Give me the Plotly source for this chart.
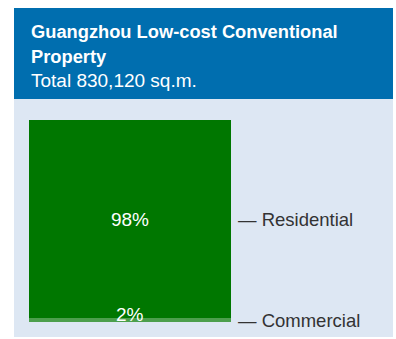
import plotly.graph_objects as go

# Floor-area split of the Guangzhou low-cost conventional portfolio
categories = ["Commercial", "Residential"]
shares = [2, 98]
bar_colors = ["#4C9F4C", "#007700"]
title_lines = ["Guangzhou Low-cost Conventional", "Property"]
subtitle = "Total 830,120 sq.m."

W, H = 396, 339
# plot area in pixels (left, right, top, bottom)
PL, PR, PT, PB = 29, 231, 120, 322
PW, PH = PR - PL, PB - PT


def px_x(x):
    return (x - PL) / PW


def px_y(y):
    return (PB - y) / PH


FONT = "Liberation Sans, Arial, sans-serif"

fig = go.Figure()
for cat, val, col in zip(categories, shares, bar_colors):
    fig.add_trace(go.Bar(
        x=["total"], y=[val], name=cat,
        marker=dict(color=col, line=dict(width=0)),
        width=1,
        texttemplate="%{y}%" if val > 10 else None,
        textposition="inside", insidetextanchor="middle",
        textfont=dict(family=FONT, size=19, color="white"),
        hoverinfo="skip",
    ))

shapes = [
    # light panel
    dict(type="rect", xref="paper", yref="paper",
         x0=px_x(14), x1=px_x(393), y0=px_y(337), y1=px_y(99),
         fillcolor="#DDE7F3", line=dict(width=0), layer="below"),
    # header band
    dict(type="rect", xref="paper", yref="paper",
         x0=px_x(14), x1=px_x(393), y0=px_y(99), y1=px_y(8),
         fillcolor="#006EAF", line=dict(width=0), layer="below"),
]

annotations = []
for i, line in enumerate(title_lines):
    annotations.append(dict(
        text=f"<b>{line}</b>", xref="paper", yref="paper",
        x=px_x(29), y=px_y(31.5 + 25 * i), xanchor="left", yanchor="middle",
        showarrow=False, font=dict(family=FONT, size=18.3, color="white")))
annotations.append(dict(
    text=subtitle, xref="paper", yref="paper",
    x=px_x(29), y=px_y(80.5), xanchor="left", yanchor="middle",
    showarrow=False, font=dict(family=FONT, size=19, color="white")))

# small share label sits on top of its thin segment
annotations.append(dict(
    text=f"{shares[0]}%", x="total", y=shares[0], xref="x", yref="y",
    yanchor="middle", yshift=3, showarrow=False,
    font=dict(family=FONT, size=19, color="white")))

# category labels to the right of the bar, centred on each segment
base = 0
for cat, val in zip(categories, shares):
    mid = base + val / 2
    annotations.append(dict(
        text=f"\u2014 {cat}", x=1, y=mid, xref="paper", yref="y",
        xanchor="left", yanchor="middle", xshift=5, yshift=-1,
        showarrow=False,
        font=dict(family=FONT, size=18.5, color="#333333")))
    base += val

fig.update_layout(
    width=W, height=H,
    margin=dict(l=PL, r=W - PR, t=PT, b=H - PB, pad=0),
    barmode="stack", bargap=0,
    showlegend=False,
    paper_bgcolor="white", plot_bgcolor="rgba(0,0,0,0)",
    xaxis=dict(visible=False, range=[-0.5, 0.5], fixedrange=True),
    yaxis=dict(visible=False, range=[0, 100], fixedrange=True),
    shapes=shapes, annotations=annotations,
    uniformtext=dict(minsize=8, mode="show"),
)

fig.write_html("out.html", config=dict(displayModeBar=False))
